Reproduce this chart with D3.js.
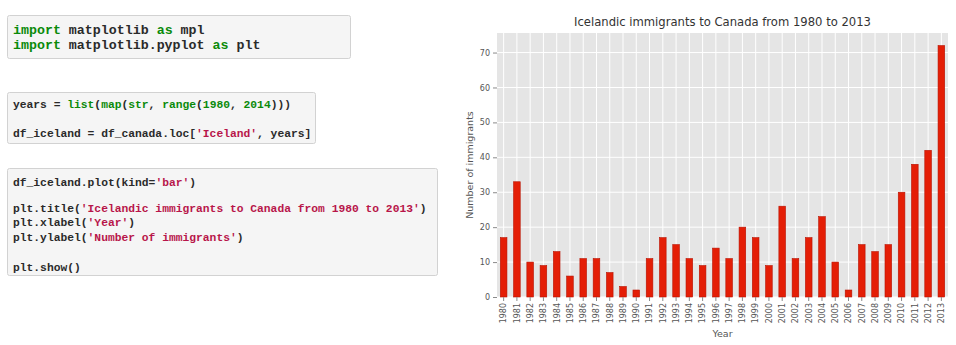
<!DOCTYPE html>
<html>
<head>
<meta charset="utf-8">
<script src="https://cdn.jsdelivr.net/npm/d3@7"></script>
<style>
  html, body { margin: 0; padding: 0; background: #ffffff; }
  svg { display: block; }
</style>
</head>
<body>
<svg id="chart" width="956" height="345"></svg>
<script>
// ---- Data ----
const years = ["1980","1981","1982","1983","1984","1985","1986","1987","1988","1989",
  "1990","1991","1992","1993","1994","1995","1996","1997","1998","1999",
  "2000","2001","2002","2003","2004","2005","2006","2007","2008","2009",
  "2010","2011","2012","2013"];
const immigrants = [17,33,10,9,13,6,11,11,7,3,
  2,11,17,15,11,9,14,11,20,17,
  9,26,11,17,23,10,2,15,13,15,
  30,38,42,72];
const yTicks = [0,10,20,30,40,50,60,70];
const chartTitle = "Icelandic immigrants to Canada from 1980 to 2013";
const xLabel = "Year";
const yLabel = "Number of immigrants";

// ---- Code cells (text tokens) ----
const K = "kw", S = "str", T = "txt";
const codeCells = [
  { x: 7, y: 15, w: 343, h: 43, size: 13.3, lineYs: [34, 49], lines: [
    [["import", K], [" matplotlib ", T], ["as", K], [" mpl", T]],
    [["import", K], [" matplotlib.pyplot ", T], ["as", K], [" plt", T]]
  ]},
  { x: 7, y: 92, w: 308, h: 51, size: 11.3, lineYs: [108, 137], lines: [
    [["years = ", T], ["list", K], ["(", T], ["map", K], ["(", T], ["str", K], [", ", T], ["range", K], ["(", T], ["1980", K], [", ", T], ["2014", K], [")))", T]],
    [["df_iceland = df_canada.loc[", T], ["'Iceland'", S], [", years]", T]]
  ]},
  { x: 7, y: 168, w: 430, h: 107, size: 11.3, lineYs: [186, 212, 226, 241, 271], lines: [
    [["df_iceland.plot(kind=", T], ["'bar'", S], [")", T]],
    [["plt.title(", T], ["'Icelandic immigrants to Canada from 1980 to 2013'", S], [")", T]],
    [["plt.xlabel(", T], ["'Year'", S], [")", T]],
    [["plt.ylabel(", T], ["'Number of immigrants'", S], [")", T]],
    [["plt.show()", T]]
  ]}
];

const svg = d3.select("#chart");

// draw code cells
const colors = { kw: "#0a8a0a", str: "#b8154a", txt: "#2a2a2a" };
codeCells.forEach(c => {
  svg.append("rect").attr("x", c.x + 0.5).attr("y", c.y + 0.5)
    .attr("width", c.w).attr("height", c.h).attr("rx", 2)
    .attr("fill", "#f5f5f5").attr("stroke", "#d2d2d2");
  c.lines.forEach((line, i) => {
    const t = svg.append("text")
      .attr("x", c.x + 6).attr("y", c.lineYs[i])
      .attr("font-family", "'Liberation Mono', 'DejaVu Sans Mono', monospace")
      .attr("font-size", c.size)
      .attr("xml:space", "preserve")
      .style("white-space", "pre");
    line.forEach(([s, k]) => {
      t.append("tspan").text(s).attr("fill", colors[k])
        .attr("font-weight", "bold");
    });
  });
});

// ---- Chart ----
const pLeft = 497, pRight = 948, pTop = 33, pBottom = 297;

svg.append("rect").attr("x", pLeft).attr("y", pTop)
  .attr("width", pRight - pLeft).attr("height", pBottom - pTop)
  .attr("fill", "#e5e5e5");

const x = d3.scaleBand().domain(years).range([pLeft, pRight])
  .paddingInner(0.5).paddingOuter(0.25);
const y = d3.scaleLinear().domain([0, 75.6]).range([pBottom, pTop]);

// grid
svg.append("g").selectAll("line").data(yTicks).join("line")
  .attr("x1", pLeft).attr("x2", pRight)
  .attr("y1", d => y(d)).attr("y2", d => y(d))
  .attr("stroke", "#ffffff").attr("stroke-width", 1);
svg.append("g").selectAll("line").data(years).join("line")
  .attr("y1", pTop).attr("y2", pBottom)
  .attr("x1", d => x(d) + x.bandwidth() / 2).attr("x2", d => x(d) + x.bandwidth() / 2)
  .attr("stroke", "#ffffff").attr("stroke-width", 1);

// bars
svg.append("g").selectAll("rect").data(years).join("rect")
  .attr("x", d => x(d))
  .attr("y", (d, i) => y(immigrants[i]))
  .attr("width", x.bandwidth())
  .attr("height", (d, i) => y(0) - y(immigrants[i]))
  .attr("fill", "#e41e06")
  .attr("stroke", "#b81200").attr("stroke-width", 0.6);

// axes
const yAxis = svg.append("g").attr("transform", `translate(${pLeft},0)`)
  .call(d3.axisLeft(y).tickValues(yTicks).tickSize(4).tickPadding(3));
const xAxis = svg.append("g").attr("transform", `translate(0,${pBottom})`)
  .call(d3.axisBottom(x).tickSize(4).tickPadding(2));
[yAxis, xAxis].forEach(a => {
  a.select(".domain").remove();
  a.selectAll(".tick line").attr("stroke", "#8a8a8a");
  a.selectAll(".tick text").attr("fill", "#555555")
    .attr("font-family", "'DejaVu Sans', sans-serif").attr("font-size", 8);
});
xAxis.selectAll(".tick text")
  .attr("transform", "rotate(-90)")
  .attr("text-anchor", "end")
  .attr("dy", "0.35em")
  .attr("x", -6).attr("y", 0);

// title and labels
svg.append("text").attr("x", (pLeft + pRight) / 2).attr("y", 26)
  .attr("text-anchor", "middle")
  .attr("font-family", "'DejaVu Sans', sans-serif").attr("font-size", 11.6)
  .attr("fill", "#333333").text(chartTitle);
svg.append("text").attr("x", (pLeft + pRight) / 2).attr("y", 337)
  .attr("text-anchor", "middle")
  .attr("font-family", "'DejaVu Sans', sans-serif").attr("font-size", 9.5)
  .attr("fill", "#555555").text(xLabel);
svg.append("text")
  .attr("transform", `translate(473,${(pTop + pBottom) / 2}) rotate(-90)`)
  .attr("text-anchor", "middle")
  .attr("font-family", "'DejaVu Sans', sans-serif").attr("font-size", 9.5)
  .attr("fill", "#555555").text(yLabel);
</script>
</body>
</html>
